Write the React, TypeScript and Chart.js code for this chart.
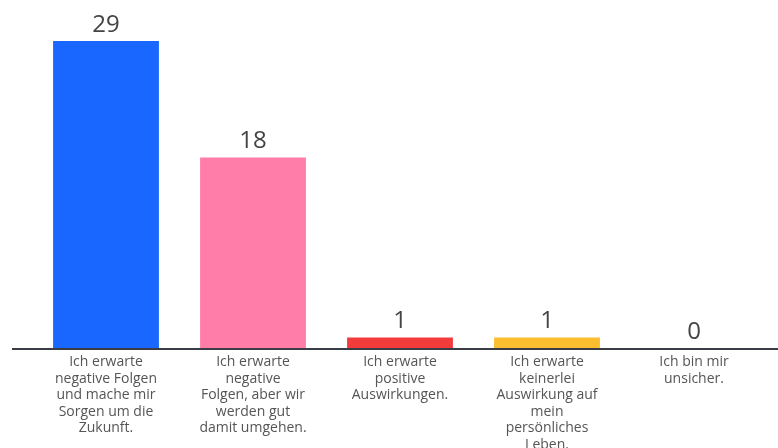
import React, { useEffect, useRef } from "react";
import { Chart, registerables } from "chart.js";

Chart.register(...registerables);

const categories: string[][] = [
  ["Ich erwarte", "negative Folgen", "und mache mir", "Sorgen um die", "Zukunft."],
  ["Ich erwarte", "negative", "Folgen, aber wir", "werden gut", "damit umgehen."],
  ["Ich erwarte", "positive", "Auswirkungen."],
  ["Ich erwarte", "keinerlei", "Auswirkung auf", "mein", "persönliches", "Leben."],
  ["Ich bin mir", "unsicher."],
];
const values: number[] = [29, 18, 1, 1, 0];
const barColors: string[] = ["#1A67FF", "#FF7DA8", "#F23B3B", "#FBBE2E", "#9E9E9E"];

const valueLabelPlugin = {
  id: "valueLabels",
  afterDatasetsDraw(chart: any) {
    const ctx = chart.ctx;
    const meta = chart.getDatasetMeta(0);
    ctx.save();
    ctx.font = "24px 'Open Sans', sans-serif";
    ctx.fillStyle = "#444";
    ctx.textAlign = "center";
    ctx.textBaseline = "alphabetic";
    meta.data.forEach((bar: any, i: number) => {
      ctx.fillText(String(values[i]), bar.x, bar.y - 9);
    });
    ctx.restore();
  },
};

const axisLinePlugin = {
  id: "axisLine",
  afterDatasetsDraw(chart: any) {
    const ctx = chart.ctx;
    const y = chart.scales.y.getPixelForValue(0);
    ctx.save();
    ctx.strokeStyle = "#3a3d45";
    ctx.lineWidth = 2;
    ctx.beginPath();
    ctx.moveTo(12, y + 1);
    ctx.lineTo(chart.width, y + 1);
    ctx.stroke();
    ctx.restore();
  },
};

export default function App() {
  const ref = useRef<HTMLCanvasElement>(null);
  useEffect(() => {
    if (!ref.current) return;
    const chart = new Chart(ref.current, {
      type: "bar",
      data: {
        labels: categories,
        datasets: [
          {
            data: values,
            backgroundColor: barColors,
            barPercentage: 0.72,
            categoryPercentage: 1,
          },
        ],
      },
      options: {
        responsive: false,
        animation: false,
        layout: { padding: { top: 41, left: 32.5, right: 10.5, bottom: 0 } },
        plugins: { legend: { display: false }, tooltip: { enabled: false } },
        scales: {
          x: {
            grid: { display: false, drawTicks: false },
            border: { display: false },
            ticks: {
              color: "#555",
              font: { family: "'Open Sans', sans-serif", size: 14, lineHeight: 1.18 },
              maxRotation: 0,
              minRotation: 0,
              autoSkip: false,
              padding: 6,
            },
            afterFit: (scale: any) => {
              scale.height = 100;
            },
          },
          y: {
            display: false,
            min: 0,
            max: 29,
          },
        },
      },
      plugins: [valueLabelPlugin, axisLinePlugin],
    });
    return () => chart.destroy();
  }, []);
  return (
    <div style={{ position: "fixed", left: 0, top: 0, width: 778, height: 448, background: "#fff" }}>
      <canvas ref={ref} width={778} height={448} />
    </div>
  );
}
